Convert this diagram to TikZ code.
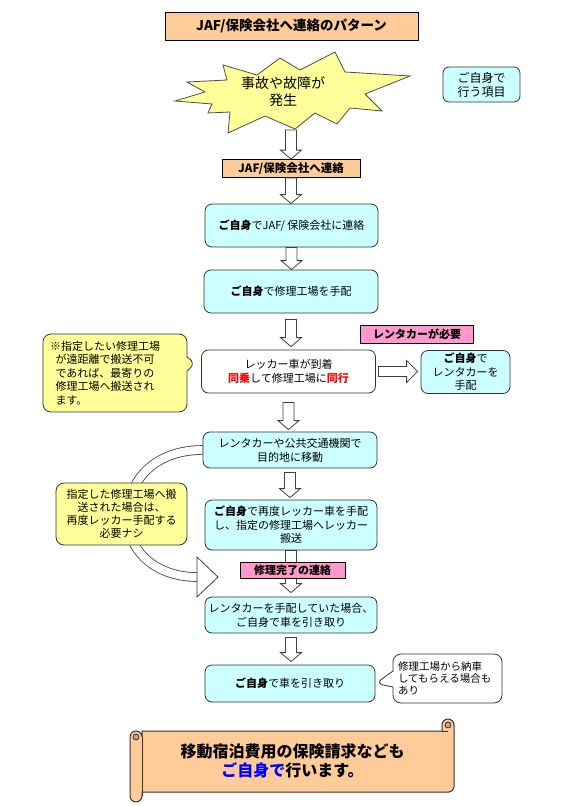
\documentclass[tikz,border=0pt]{standalone}
\usepackage{fontspec}
\setmainfont{Noto Sans CJK JP}
\usetikzlibrary{shapes.callouts,calc,backgrounds}
\definecolor{peach}{HTML}{FFCC99}
\definecolor{cyanbox}{HTML}{CCFFFF}
\definecolor{yel}{HTML}{FFFF99}
\definecolor{pinkb}{HTML}{FF99CC}
\definecolor{redtxt}{HTML}{FF0000}
\definecolor{bluetxt}{HTML}{0000FF}
\newcommand\hdown[2]{\draw[harrow] let \p1=(#1), \p2=(#2) in
  (\x1-5.5pt,\y1) -- (\x1-5.5pt,\y2+9pt) -- (\x1-10.5pt,\y2+9pt) -- (\x1,\y2)
  -- (\x1+10.5pt,\y2+9pt) -- (\x1+5.5pt,\y2+9pt) -- (\x1+5.5pt,\y1) -- cycle;}
\tikzset{
  box/.style={rectangle, align=center, inner sep=0pt, line width=0.8pt, draw=black!80, font=\fontsize{11}{14}\selectfont},
  cbox/.style={box, rounded corners=7pt, fill=cyanbox},
  wbox/.style={box, rounded corners=7pt, fill=white},
  ybox/.style={box, rounded corners=8pt, fill=yel},
  pbox/.style={box, fill=peach, draw=black},
  pinkbox/.style={box, fill=pinkb, draw=black, font=\bfseries\fontsize{11}{13}\selectfont},
  sz/.style 2 args={minimum width=#1pt, minimum height=#2pt},
  harrow/.style={draw=black!75, fill=white, line width=0.8pt, line join=miter},
}
\begin{document}
\begin{tikzpicture}[x=1pt,y=-1pt]
\useasboundingbox (0,0) rectangle (582,806);
\begin{pgfonlayer}{background}
\fill[white] (0,0) rectangle (582,806);
\end{pgfonlayer}

% title
\node[pbox, sz={253}{28}, font=\bfseries\fontsize{13.5}{16}\selectfont] (title) at (291.5,26) {JAF/保険会社へ連絡のパターン};

% starburst
\draw[fill=yel, draw=black!70, line width=0.8pt, line join=miter]
 (175,101) -- (205,92) -- (187,82) -- (227,80) -- (223,65) -- (257,75) -- (280,58)
 -- (300,70) -- (335,52) -- (345,72) -- (410,76) -- (365,94) -- (382,111) -- (350,108)
 -- (337,124) -- (315,113) -- (295,129) -- (265,116) -- (228,133) -- (230,112)
 -- (208,113) -- (212,104) -- cycle;
\node[align=center, font=\fontsize{14}{17}\selectfont] (burst) at (283,91.5) {事故や故障が\\発生};
\coordinate (burstbottom) at (291,130);

% legend
\node[cbox, sz={77}{35}, rounded corners=6pt, font=\fontsize{12}{14}\selectfont] (self) at (481.5,84.5) {ご自身で\\行う項目};

\node[pbox, sz={138}{18}, font=\bfseries\fontsize{11.5}{13}\selectfont] (jaf) at (291,168.5) {JAF/保険会社へ連絡};
\node[cbox, sz={173}{43}] (b1) at (291.5,225.5) {\textbf{ご自身}でJAF/ 保険会社に連絡};
\node[cbox, sz={174}{43}] (b2) at (291,291.5) {\textbf{ご自身}で修理工場を手配};
\node[pinkbox, sz={113}{18}] (rent) at (417,334) {レンタカーが必要};
\node[wbox, sz={174}{43}] (b3) at (288.5,371.5) {レッカー車が到着\\{\color{redtxt}\textbf{同乗}}して修理工場に{\color{redtxt}\textbf{同行}}};
\node[cbox, sz={89}{43}, font=\fontsize{11}{13.5}\selectfont] (b4) at (465.5,372) {\textbf{ご自身}で\\レンタカーを\\手配};
\node[rectangle callout, rounded corners=8pt, fill=yel, draw=black!80, line width=0.8pt,
  sz={144}{76}, text width=130pt, inner sep=7pt, align=left, font=\fontsize{11}{13.5}\selectfont,
  callout absolute pointer={(196,363)}, callout pointer width=14pt] (note1) at (115,373)
  {※指定したい修理工場\\\hspace*{0.5em}が遠距離で搬送不可\\\hspace*{0.5em}であれば、最寄りの\\\hspace*{0.5em}修理工場へ搬送され\\\hspace*{0.5em}ます。};
\node[cbox, sz={174}{36}] (b5) at (290,450) {レンタカーや公共交通機関で\\目的地に移動};
\node[cbox, sz={172}{50}, font=\fontsize{11}{13.5}\selectfont] (b6) at (291,525) {\textbf{ご自身}で再度レッカー車を手配\\し、指定の修理工場へレッカー\\搬送};
\node[cbox, sz={172}{36}] (b7) at (291,615) {レンタカーを手配していた場合、\\ご自身で車を引き取り};
\node[cbox, sz={170}{37}] (b8) at (290,683.5) {\textbf{ご自身}で車を引き取り};
\node[rectangle callout, rounded corners=8pt, fill=white, draw=black!80, line width=0.8pt,
  sz={109}{49}, text width=99pt, inner sep=5pt, align=left, font=\fontsize{10.5}{12}\selectfont,
  callout absolute pointer={(b8.east)}, callout pointer width=16pt] (note2) at (447.5,678.5)
  {修理工場から納車\\してもらえる場合も\\あり};

% curved hollow arrow
\coordinate (headbase) at (197,577);
\begin{pgfonlayer}{background}
\draw[draw=black!75, line width=0.8pt, double=white, double distance=8pt]
  (b5.west) .. controls (155,450) and (128,480) .. (128,515)
  .. controls (126,550) and (155,577) .. (headbase);
\end{pgfonlayer}
\draw[harrow] (headbase) ++(0,-20) -- ++(21,20) -- ++(-21,20) -- cycle;
\node[ybox, sz={131}{62}, font=\fontsize{11}{13}\selectfont] (note3) at (121.5,514) {指定した修理工場へ搬\\送された場合は、\\再度レッカー手配する\\必要ナシ};

% straight hollow arrows
\hdown{burstbottom}{jaf.north}
\hdown{jaf.south}{b1.north}
\hdown{b1.south}{b2.north}
\hdown{$(b2.south)+(0,6)$}{$(b3.north)+(0,-3)$}
\hdown{$(b3.south)+(0,9)$}{$(b5.north)+(0,-2)$}
\hdown{$(b5.south)+(0,4)$}{$(b6.north)+(0,-2)$}
\hdown{b6.south}{$(b7.north)+(0,-4)$}
\hdown{$(b7.south)+(0,4)$}{$(b8.north)+(0,-3)$}
\draw[harrow] let \p1=($(b3.east)+(2.5,0)$), \p2=($(b4.west)+(-3,0)$) in
  (\x1,\y1+5pt) -- (\x2-11pt,\y1+5pt) -- (\x2-11pt,\y1+11pt) -- (\x2,\y1)
  -- (\x2-11pt,\y1-11pt) -- (\x2-11pt,\y1-5pt) -- (\x1,\y1-5pt) -- cycle;
\node[pinkbox, sz={105}{16}] (done) at (292.5,570) {修理完了の連絡};

% scroll
\draw[fill=peach, draw=black!80, line width=1pt]
  (142,731) -- (442,731) -- (442,725) arc[start angle=180, end angle=360, radius=6]
  -- (454,787) arc[start angle=0, end angle=90, radius=5]
  -- (142,792) -- (142,796) arc[start angle=0, end angle=180, radius=6]
  -- (130,737) arc[start angle=180, end angle=360, radius=6] -- cycle;
\draw[black!80, line width=1pt] (142,737) -- (142,796);
\draw[black!80, line width=0.8pt, fill=peach!80!black] (136,737) circle (3);
\draw[black!80, line width=0.8pt] (442,731) -- (448,731);
\draw[black!80, line width=0.8pt, fill=peach!80!black] (448,725) circle (3);
\node[align=center, font=\bfseries\fontsize{16}{19}\selectfont] (final) at (292.5,761)
  {移動宿泊費用の保険請求なども\\{\color{bluetxt}ご自身で}行います。};
\end{tikzpicture}
\end{document}
